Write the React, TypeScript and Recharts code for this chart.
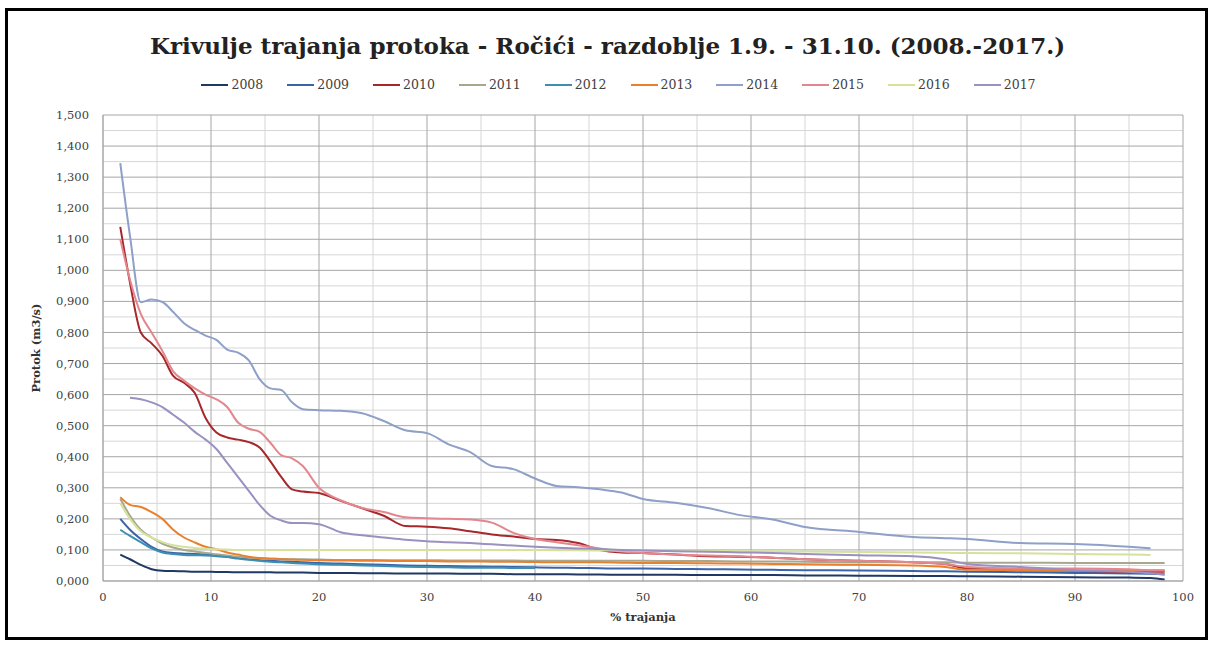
// Krivulje trajanja protoka - Ročići (flow duration curves, 2008-2017)
import { LineChart, Line, XAxis, YAxis, CartesianGrid } from 'recharts';

// ── Data ──────────────────────────────────────────────────────────────────────
const X = [
  1.6, 2.5, 3.5, 4.5, 5.5, 6.5, 7.5, 8.5, 9.5, 10.5,
  11.5, 12.5, 13.5, 14.5, 15.5, 16.5, 17.5, 18.5, 20,
  22, 24, 26, 28, 30, 32, 34, 36, 38, 40,
  42, 44, 46, 48, 50, 53, 56, 59, 62, 65,
  70, 75, 78, 80, 85, 90, 95, 97, 98.3,
];

const Y2008 = [
  0.085, 0.07, 0.052, 0.038, 0.033, 0.032, 0.031, 0.03, 0.03, 0.029,
  0.029, 0.028, 0.028, 0.028, 0.028, 0.027, 0.027, 0.027, 0.026,
  0.026, 0.025, 0.025, 0.024, 0.024, 0.024, 0.023, 0.023, 0.022, 0.022,
  0.022, 0.021, 0.021, 0.02, 0.02, 0.02, 0.019, 0.019, 0.019, 0.018,
  0.017, 0.016, 0.016, 0.015, 0.014, 0.012, 0.011, 0.01, 0.005,
];
const Y2009 = [
  0.2, 0.165, 0.135, 0.11, 0.095, 0.09, 0.088, 0.087, 0.085, 0.082,
  0.078, 0.074, 0.07, 0.067, 0.065, 0.063, 0.062, 0.06, 0.058,
  0.056, 0.054, 0.052, 0.05, 0.049, 0.048, 0.047, 0.046, 0.045, 0.044,
  0.043, 0.042, 0.041, 0.04, 0.04, 0.039, 0.038, 0.037, 0.036, 0.035,
  0.034, 0.032, 0.031, 0.03, 0.028, 0.026, 0.024, 0.023, 0.022,
];
const Y2010 = [
  1.14, 0.96, 0.8, 0.765, 0.725, 0.66, 0.638, 0.605, 0.525, 0.478,
  0.462, 0.455, 0.447, 0.43, 0.385, 0.335, 0.295, 0.288, 0.283,
  0.258, 0.234, 0.21, 0.177, 0.175, 0.17, 0.16, 0.15, 0.143, 0.135,
  0.132, 0.122, 0.1, 0.092, 0.09, 0.085, 0.08, 0.078, 0.075, 0.07,
  0.065, 0.06, 0.055, 0.04, 0.035, 0.033, 0.03, 0.03, 0.03,
];
const Y2011 = [
  0.265, 0.21, 0.165, 0.14, 0.12, 0.108, 0.1, 0.095, 0.09, 0.086,
  0.082, 0.078, 0.075, 0.073, 0.072, 0.071, 0.07, 0.07, 0.069,
  0.068, 0.068, 0.067, 0.067, 0.067, 0.066, 0.066, 0.066, 0.066, 0.065,
  0.065, 0.065, 0.065, 0.065, 0.065, 0.064, 0.064, 0.063, 0.063, 0.062,
  0.06, 0.06, 0.06, 0.059, 0.059, 0.058, 0.058, 0.058, 0.058,
];
const Y2012 = [
  0.165, 0.145, 0.125, 0.105, 0.092, 0.087, 0.084, 0.083, 0.082, 0.08,
  0.077, 0.072, 0.068, 0.065, 0.062, 0.06, 0.058, 0.056, 0.054,
  0.052, 0.05, 0.048, 0.046, 0.045, 0.044, 0.043, 0.043, 0.042, 0.042,
  null, null, null, null, null, null, null, null, null, null,
  null, null, null, null, null, null, null, null, null,
];
const Y2013 = [
  0.27, 0.245, 0.238, 0.222, 0.2, 0.165, 0.14, 0.124, 0.11, 0.102,
  0.092, 0.085, 0.078, 0.074, 0.072, 0.07, 0.069, 0.068, 0.067,
  0.066, 0.065, 0.065, 0.064, 0.064, 0.063, 0.063, 0.062, 0.062, 0.061,
  0.06, 0.06, 0.06, 0.059, 0.058, 0.058, 0.057, 0.056, 0.055, 0.054,
  0.052, 0.05, 0.045, 0.036, 0.035, 0.034, 0.034, 0.034, 0.034,
];
const Y2014 = [
  1.345, 1.11, 0.897, 0.906, 0.898, 0.866, 0.83, 0.808, 0.79, 0.776,
  0.745, 0.735, 0.71, 0.65, 0.62, 0.615, 0.575, 0.553, 0.55,
  0.548, 0.54, 0.515, 0.485, 0.476, 0.44, 0.415, 0.37, 0.36, 0.33,
  0.306, 0.302, 0.295, 0.285, 0.264, 0.252, 0.235, 0.212, 0.198, 0.174,
  0.158, 0.142, 0.138, 0.135, 0.122, 0.119, 0.11, 0.105, null,
];
const Y2015 = [
  1.1, 0.97, 0.86, 0.8, 0.74, 0.675, 0.645, 0.62, 0.6, 0.585,
  0.56, 0.51, 0.49, 0.48, 0.445, 0.405, 0.395, 0.37, 0.3,
  0.26, 0.235, 0.222, 0.205, 0.202, 0.2, 0.198, 0.188, 0.155, 0.135,
  0.125, 0.115, 0.105, 0.095, 0.09, 0.085, 0.082, 0.08, 0.075, 0.07,
  0.065, 0.06, 0.055, 0.045, 0.04, 0.04, 0.038, 0.035, 0.035,
];
const Y2016 = [
  0.25, 0.2, 0.16, 0.14, 0.125, 0.115, 0.11, 0.106, 0.104, 0.102,
  0.101, 0.1, 0.1, 0.1, 0.1, 0.1, 0.1, 0.1, 0.1,
  0.1, 0.1, 0.1, 0.1, 0.1, 0.1, 0.1, 0.1, 0.1, 0.1,
  0.099, 0.099, 0.098, 0.098, 0.098, 0.097, 0.097, 0.096, 0.096, 0.095,
  0.093, 0.092, 0.091, 0.09, 0.089, 0.087, 0.085, 0.084, null,
];
const Y2017 = [
  null, 0.59, 0.585, 0.575, 0.56, 0.535, 0.51, 0.48, 0.455, 0.425,
  0.38, 0.335, 0.29, 0.245, 0.21, 0.195, 0.187, 0.187, 0.183,
  0.157, 0.147, 0.14, 0.133, 0.128, 0.125, 0.122, 0.118, 0.114, 0.11,
  0.107, 0.105, 0.103, 0.1, 0.098, 0.096, 0.094, 0.092, 0.09, 0.087,
  0.083, 0.08, 0.07, 0.055, 0.045, 0.035, 0.03, 0.025, 0.02,
];

const YEARS = ['2008', '2009', '2010', '2011', '2012', '2013', '2014', '2015', '2016', '2017'];
const VALUES = [Y2008, Y2009, Y2010, Y2011, Y2012, Y2013, Y2014, Y2015, Y2016, Y2017];

const COLORS: Record<string, string> = {
  '2008': '#1f3864',
  '2009': '#3a64a8',
  '2010': '#a6282b',
  '2011': '#a7a78e',
  '2012': '#3c8fb0',
  '2013': '#e8802e',
  '2014': '#8ea0c8',
  '2015': '#e4868e',
  '2016': '#d4e29c',
  '2017': '#9b90c0',
};

const X_TICKS = [0, 10, 20, 30, 40, 50, 60, 70, 80, 90, 100];
const Y_TICKS = [0, 0.1, 0.2, 0.3, 0.4, 0.5, 0.6, 0.7, 0.8, 0.9, 1.0, 1.1, 1.2, 1.3, 1.4, 1.5];
const X_MINOR = [5, 15, 25, 35, 45, 55, 65, 75, 85, 95];
const Y_MINOR = Y_TICKS.slice(0, -1).map((v) => v + 0.05);

const rows = X.map((x, i) => {
  const r: Record<string, number | null> = { x };
  YEARS.forEach((y, k) => { r[y] = VALUES[k][i]; });
  return r;
});

const FONT = '"DejaVu Serif", serif';
const fmt = (v: number) => v.toFixed(3).replace('.', ',');

function LegendRow() {
  return (
    <div style={{ display: 'flex', justifyContent: 'center', gap: 24, fontFamily: FONT, fontSize: 12.5, color: '#404040' }}>
      {YEARS.map((y) => (
        <div key={y} style={{ display: 'flex', alignItems: 'center' }}>
          <span style={{ display: 'inline-block', width: 27, height: 2, background: COLORS[y], marginRight: 3 }} />
          <span>{y}</span>
        </div>
      ))}
    </div>
  );
}

export default function App() {
  return (
    <div style={{ position: 'absolute', left: 0, top: 0, width: 1215, height: 647, background: '#fff' }}>
      <div style={{ position: 'absolute', left: 5, top: 8, width: 1197, height: 626, border: '3px solid #000' }} />
      <div style={{ position: 'absolute', left: 0, top: 32, width: 1215, textAlign: 'center', fontFamily: FONT, fontWeight: 'bold', fontSize: 23, color: '#222' }}>
        Krivulje trajanja protoka - Ročići - razdoblje 1.9. - 31.10. (2008.-2017.)
      </div>
      <div style={{ position: 'absolute', left: 11, top: 77, width: 1215 }}>
        <LegendRow />
      </div>
      <div style={{ position: 'absolute', left: 0, top: 0 }}>
        <LineChart width={1215} height={647} data={rows} margin={{ top: 115, right: 32, bottom: 16, left: 0 }}>
          <CartesianGrid stroke="#d6d6d6" verticalValues={X_MINOR} horizontalValues={Y_MINOR} />
          <CartesianGrid stroke="#a6a6a6" verticalValues={X_TICKS} horizontalValues={Y_TICKS} />
          <XAxis
            type="number"
            dataKey="x"
            domain={[0, 100]}
            ticks={X_TICKS}
            height={50}
            tickLine={false}
            axisLine={{ stroke: '#a6a6a6' }}
            tick={{ fill: '#404040', fontSize: 11.5, fontFamily: FONT }}
            tickMargin={6}
            label={{ value: '% trajanja', position: 'insideBottom', offset: 10, fill: '#333', fontSize: 11.5, fontWeight: 'bold', fontFamily: FONT }}
          />
          <YAxis
            type="number"
            domain={[0, 1.5]}
            ticks={Y_TICKS}
            width={103}
            tickLine={false}
            axisLine={{ stroke: '#a6a6a6' }}
            tickFormatter={fmt}
            tick={{ fill: '#404040', fontSize: 11.5, fontFamily: FONT }}
            tickMargin={8}
            label={{ value: 'Protok (m3/s)', angle: -90, position: 'insideLeft', offset: 36, fill: '#333', fontSize: 11.5, fontWeight: 'bold', fontFamily: FONT, style: { textAnchor: 'middle' } }}
          />
          {YEARS.map((y) => (
            <Line
              key={y}
              type="monotone"
              dataKey={y}
              stroke={COLORS[y]}
              strokeWidth={2}
              dot={false}
              isAnimationActive={false}
              connectNulls={false}
            />
          ))}
        </LineChart>
      </div>
    </div>
  );
}
